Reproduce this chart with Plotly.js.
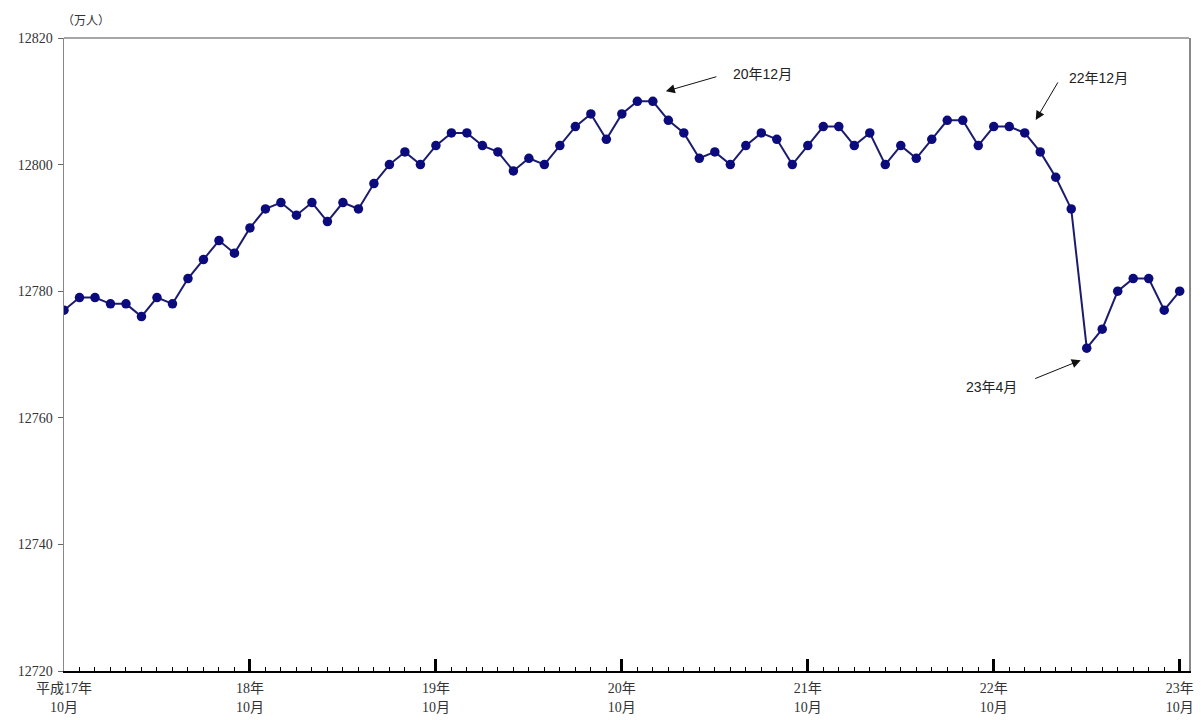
<!DOCTYPE html>
<html>
<head>
<meta charset="utf-8">
<script src="https://cdn.plot.ly/plotly-3.0.1.min.js"></script>
<style>html,body{margin:0;padding:0;background:#fff;}#chart{width:1201px;height:720px;}</style>
</head>
<body>
<div id="chart"></div>
<script>
// Monthly population (万人), 平成17年10月 .. 平成23年10月
const population = [
  12777, 12779, 12779, 12778, 12778, 12776, 12779, 12778, 12782, 12785, 12788, 12786,
  12790, 12793, 12794, 12792, 12794, 12791, 12794, 12793, 12797, 12800, 12802, 12800,
  12803, 12805, 12805, 12803, 12802, 12799, 12801, 12800, 12803, 12806, 12808, 12804,
  12808, 12810, 12810, 12807, 12805, 12801, 12802, 12800, 12803, 12805, 12804, 12800,
  12803, 12806, 12806, 12803, 12805, 12800, 12803, 12801, 12804, 12807, 12807, 12803,
  12806, 12806, 12805, 12802, 12798, 12793, 12771, 12774, 12780, 12782, 12782, 12777,
  12780
];
const monthIndex = population.map((v, i) => i);
const yearTickIdx = [0, 12, 24, 36, 48, 60, 72];
const yearTickText = ['平成17年<br>10月', '18年<br>10月', '19年<br>10月', '20年<br>10月', '21年<br>10月', '22年<br>10月', '23年<br>10月'];
const yTicks = [12720, 12740, 12760, 12780, 12800, 12820];
const yTickText = ['12720', '12740', '12760', '12780', '12800', '12820'];
const callouts = [
  {label: '20年12月', idx: 38},
  {label: '22年12月', idx: 62},
  {label: '23年4月', idx: 66}
];
const unitLabel = '（万人）';

const serif = 'Liberation Serif, Noto Sans CJK JP, serif';
const sans = 'Liberation Sans, Noto Sans CJK JP, sans-serif';

const trace = {
  x: monthIndex,
  y: population,
  type: 'scatter',
  mode: 'lines+markers',
  line: {color: '#1c1c6e', width: 2},
  marker: {color: '#0b0b7d', size: 9.5},
  hoverinfo: 'skip'
};

// arrow/text offsets (pixels) for each callout
const calloutStyle = [
  {tipX: 13, tipY: 10, ax: 52, ay: -15, txtX: 110, txtY: 27},
  {tipX: 11, tipY: 13, ax: 23, ay: -39, txtX: 74, txtY: 55},
  {tipX: -6, tipY: -12, ax: -47, ay: 19, txtX: -95, txtY: -39}
];
const annotations = [];
callouts.forEach((c, k) => {
  const s = calloutStyle[k];
  annotations.push({
    x: monthIndex[c.idx], y: population[c.idx], xref: 'x', yref: 'y',
    xshift: s.tipX, yshift: s.tipY, text: '', showarrow: true,
    ax: s.ax, ay: s.ay, arrowhead: 2, arrowsize: 1.8, arrowwidth: 1, arrowcolor: '#111'
  });
  annotations.push({
    x: monthIndex[c.idx], y: population[c.idx], xref: 'x', yref: 'y',
    xshift: s.txtX, yshift: s.txtY, text: c.label, showarrow: false,
    font: {family: sans, size: 14, color: '#222'}
  });
});
annotations.push({
  xref: 'paper', yref: 'paper', x: 0, y: 1, xanchor: 'left', yanchor: 'bottom',
  xshift: -4, yshift: 8, text: unitLabel, showarrow: false,
  font: {family: serif, size: 12, color: '#333'}
});

const layout = {
  width: 1201, height: 720,
  margin: {l: 64, r: 12, t: 38, b: 49},
  paper_bgcolor: '#fff', plot_bgcolor: '#fff',
  showlegend: false,
  xaxis: {
    range: [0, 72.6],
    tickmode: 'array', tickvals: yearTickIdx, ticktext: yearTickText,
    ticks: 'inside', ticklen: 12, tickwidth: 3, tickcolor: '#000',
    minor: {dtick: 1, tick0: 0, ticks: 'inside', ticklen: 4, tickwidth: 1, tickcolor: '#000', showgrid: false},
    showline: true, linecolor: '#000', linewidth: 1.5,
    showgrid: false, zeroline: false,
    tickfont: {family: serif, size: 14, color: '#333'},
    ticklabelstandoff: 4,
    fixedrange: true
  },
  yaxis: {
    range: [12720, 12820],
    tickmode: 'array', tickvals: yTicks, ticktext: yTickText,
    ticks: 'outside', ticklen: 5, tickcolor: '#666', tickwidth: 1,
    showline: true, linecolor: '#888', linewidth: 1.5, mirror: true,
    showgrid: false, zeroline: false,
    tickfont: {family: serif, size: 14, color: '#333'},
    ticklabelstandoff: 2,
    fixedrange: true
  },
  shapes: [{
    type: 'line', xref: 'paper', yref: 'paper', x0: 0, x1: 1, y0: 1, y1: 1,
    line: {color: '#888', width: 1.5}
  }],
  annotations: annotations
};

Plotly.newPlot('chart', [trace], layout, {displayModeBar: false, staticPlot: true});
</script>
</body>
</html>
